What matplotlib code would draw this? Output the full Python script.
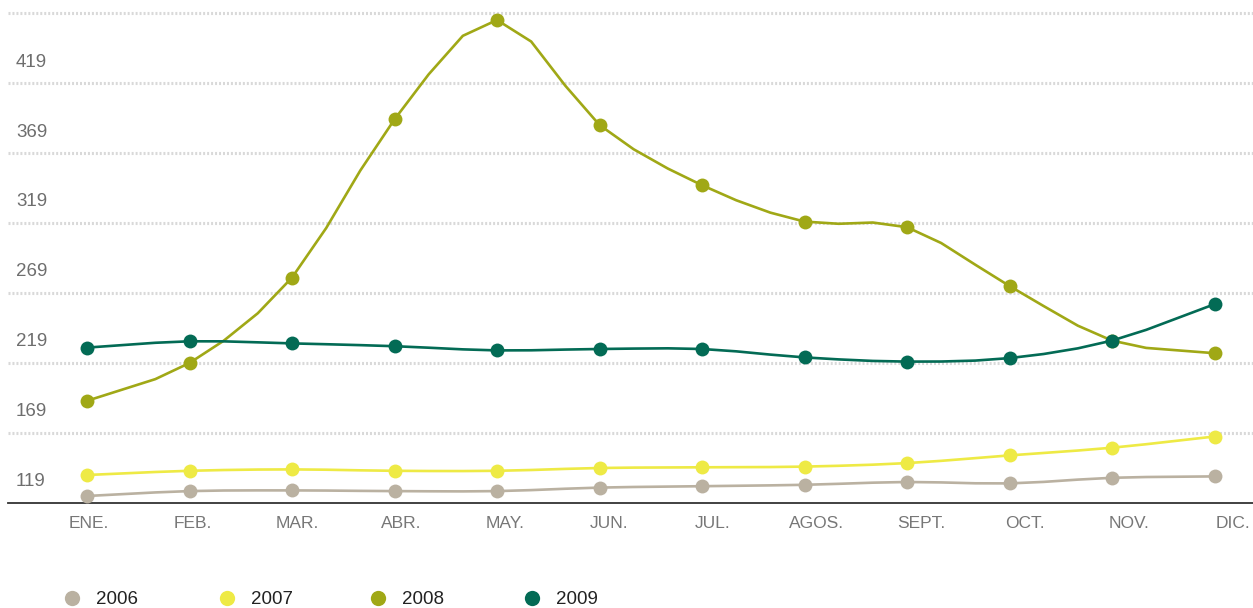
import numpy as np
import matplotlib
matplotlib.use('Agg')
import matplotlib.pyplot as plt
import matplotlib.transforms as mtransforms
from matplotlib.lines import Line2D

months = ['ENE.', 'FEB.', 'MAR.', 'ABR.', 'MAY.', 'JUN.',
          'JUL.', 'AGOS.', 'SEPT.', 'OCT.', 'NOV.', 'DIC.']
years = ['2006', '2007', '2008', '2009']

vals_2006 = [124, 127.5, 128, 127.5, 127.5, 130, 131, 132, 134, 133, 137, 138]
vals_2007 = [139, 142, 143, 142, 142, 144, 144.5, 145, 147.5, 153, 158.5, 166.5]
vals_2008 = [192, 219, 280, 393, 464, 389, 346, 320, 316, 274, 235, 226]
vals_2009 = [230, 234.5, 233, 231, 228, 229, 229, 223, 220, 222.5, 235, 261]

y_labels = [119, 169, 219, 269, 319, 369, 419]
grid_vals = [169, 219, 269, 319, 369, 419, 469]

colors = ['#bab1a1', '#eeea45', '#a0a816', '#036b55']

W, H = 1253, 608
PX_PER_UNIT = 1.40      # vertical pixels per value unit
X0, X_STEP = 87, 102.5  # pixel position of January and month spacing


def catmull_rom(y, steps=3):
    """Cardinal (Catmull-Rom) curve through evenly spaced points."""
    y = np.asarray(y, dtype=float)
    n = len(y)
    m = np.empty(n)
    m[1:-1] = (y[2:] - y[:-2]) / 2
    m[0] = y[1] - y[0]
    m[-1] = y[-1] - y[-2]
    xs, ys = [], []
    for i in range(n - 1):
        for t in np.linspace(0, 1, steps + 1)[:-1]:
            h00 = 2 * t**3 - 3 * t**2 + 1
            h10 = t**3 - 2 * t**2 + t
            h01 = -2 * t**3 + 3 * t**2
            h11 = t**3 - t**2
            xs.append(i + t)
            ys.append(h00 * y[i] + h10 * m[i] + h01 * y[i + 1] + h11 * m[i + 1])
    xs.append(n - 1)
    ys.append(y[-1])
    return np.array(xs), np.array(ys)


fig = plt.figure(figsize=(W / 100, H / 100), dpi=100)
ax = fig.add_axes([8 / W, (H - 503) / H, (W - 8) / W, 503 / H])
ax.set_xlim(-(X0 - 8) / X_STEP, 11 + (W - (X0 + 11 * X_STEP)) / X_STEP)
ax.set_ylim(119, 119 + 503 / PX_PER_UNIT)
ax.axis('off')

# dotted grid
for v in grid_vals:
    ax.axhline(v, color='#d9d9d9', lw=2.2, dashes=(0.65, 0.65),
               dash_capstyle='butt', zorder=0)
ax.axhline(119, color='#333333', lw=1.3, clip_on=False, zorder=1)

font = ['Liberation Sans', 'DejaVu Sans']
ylab_tr = mtransforms.blended_transform_factory(ax.transAxes, ax.transData)
for v in y_labels:
    ax.text(8 / (W - 8), v + 21 / PX_PER_UNIT, str(v), transform=ylab_tr,
            ha='left', va='center', fontsize=13.5, color='#6e6e6e',
            family=font)

xlab_tr = mtransforms.blended_transform_factory(ax.transData, ax.transAxes)
label_step = 104 / X_STEP
for i, m in enumerate(months):
    ax.text(2 / X_STEP + i * label_step, -20 / 503, m, transform=xlab_tr,
            ha='center', va='center', fontsize=12.5, color='#777777',
            family=font, clip_on=False)

series = [vals_2006, vals_2007, vals_2008, vals_2009]
x = np.arange(len(months))
for k, (vals, c) in enumerate(zip(series, colors)):
    cx, cy = catmull_rom(vals)
    ax.plot(cx, cy, color=c, lw=1.9, solid_joinstyle='round',
            zorder=2 + k, clip_on=False)
    ax.plot(x, vals, 'o', color=c, ms=10, mew=0, zorder=2 + k, clip_on=False)

# legend along the bottom
leg_x = [72, 227, 378, 532]
for lx, yr, c in zip(leg_x, years, colors):
    fig.add_artist(Line2D([lx / W], [(H - 598) / H], transform=fig.transFigure,
                          marker='o', ms=11, mew=0, color=c, ls='none'))
    fig.text((lx + 24) / W, (H - 599) / H, yr, ha='left', va='center',
             fontsize=13.5, color='#222222', family=font)

fig.savefig('out.png', dpi=100)
